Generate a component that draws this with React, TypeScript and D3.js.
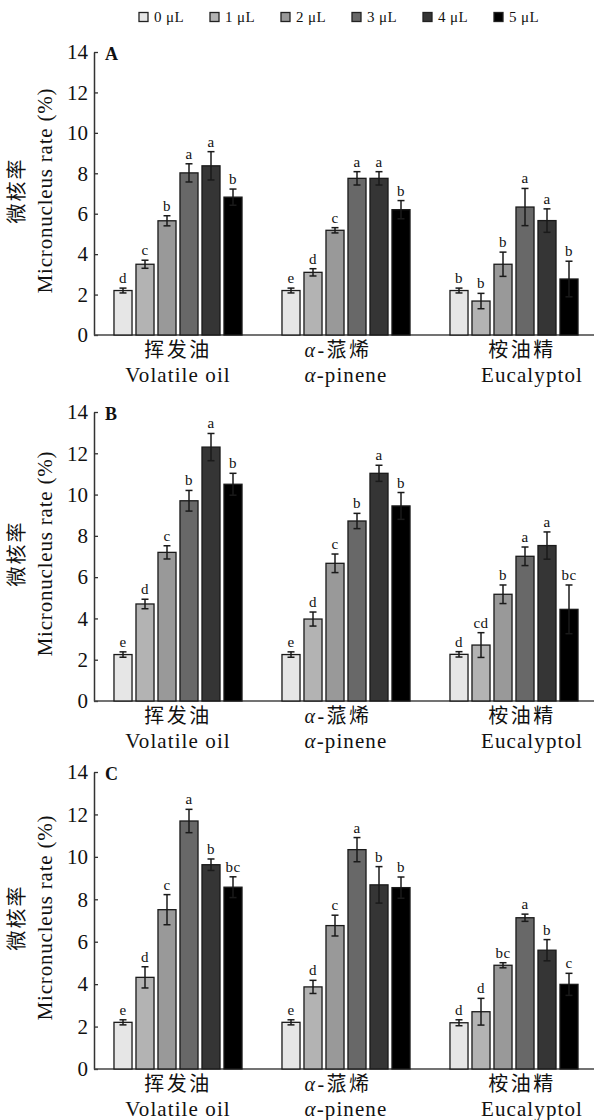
import React, { useEffect, useRef } from "react";
import * as d3 from "d3";

const groups = ["挥发油", "α-蒎烯", "桉油精"];
const groupsEn = ["Volatile oil", "α-pinene", "Eucalyptol"];
const doses = ["0 μL", "1 μL", "2 μL", "3 μL", "4 μL", "5 μL"];
const doseColors = ["#e6e6e6", "#b3b3b3", "#999999", "#686868", "#353535", "#000000"];
const yTicks = [0, 2, 4, 6, 8, 10, 12, 14];

// panel A
const meansA = [[2.2, 3.5, 5.65, 8.02, 8.37, 6.82], [2.2, 3.1, 5.18, 7.75, 7.75, 6.2], [2.2, 1.68, 3.5, 6.33, 5.66, 2.77]];
const errA = [[0.12, 0.2, 0.25, 0.45, 0.7, 0.4], [0.12, 0.18, 0.13, 0.33, 0.33, 0.45], [0.12, 0.38, 0.6, 0.92, 0.58, 0.88]];
const lettersA = [["d", "c", "b", "a", "a", "b"], ["e", "d", "c", "a", "a", "b"], ["b", "b", "b", "a", "a", "b"]];

// panel B
const meansB = [[2.25, 4.7, 7.2, 9.7, 12.3, 10.5], [2.25, 3.97, 6.67, 8.72, 11.03, 9.45], [2.26, 2.71, 5.17, 7.01, 7.53, 4.44]];
const errB = [[0.13, 0.23, 0.32, 0.5, 0.66, 0.53], [0.13, 0.34, 0.45, 0.37, 0.39, 0.65], [0.13, 0.6, 0.45, 0.45, 0.66, 1.18]];
const lettersB = [["e", "d", "c", "b", "a", "b"], ["e", "d", "c", "b", "a", "b"], ["d", "cd", "b", "a", "a", "bc"]];

// panel C
const meansC = [[2.2, 4.32, 7.51, 11.69, 9.63, 8.57], [2.2, 3.87, 6.76, 10.34, 8.68, 8.55], [2.18, 2.7, 4.89, 7.13, 5.6, 3.99]];
const errC = [[0.12, 0.5, 0.71, 0.55, 0.27, 0.49], [0.12, 0.31, 0.49, 0.57, 0.86, 0.5], [0.14, 0.63, 0.12, 0.17, 0.5, 0.52]];
const lettersC = [["e", "d", "c", "a", "b", "bc"], ["e", "d", "c", "a", "b", "b"], ["d", "d", "bc", "a", "b", "c"]];

const W = 594;
const H = 1120;
const axisX = 94;
const serif = "Liberation Serif";
const cjk = "Noto Sans CJK SC";

const panels = [
    { label: "A", means: meansA, errs: errA, letters: lettersA, top: 52, bottom: 335 },
    { label: "B", means: meansB, errs: errB, letters: lettersB, top: 412, bottom: 701 },
    { label: "C", means: meansC, errs: errC, letters: lettersC, top: 772, bottom: 1069 },
];

// label nudges relative to group centre
const zhDx = [0, -8, 8];
const enDx = [0, 0, 18];

export default function App() {
    const svgRef = useRef<SVGSVGElement>(null);

    useEffect(() => {
        const svg = d3.select(svgRef.current);
        svg.selectAll("*").remove();

        const x0 = d3.scaleBand().domain(groups).range([axisX, 598]);
        const x1 = d3.scaleBand().domain(doses).range([0, 132]).paddingInner(0.18).paddingOuter(0.09);
        const groupLeft = (gi: number) => (x0(groups[gi]) as number) + x0.bandwidth() / 2 - 66;

        // legend
        const legend = svg.append("g").attr("class", "legend");
        doses.forEach((d, i) => {
            const lx = 139 + i * 71;
            legend.append("rect")
                .attr("x", lx).attr("y", 12.5)
                .attr("width", 9).attr("height", 9)
                .attr("fill", doseColors[i])
                .attr("stroke", "#222").attr("stroke-width", 1.3);
            legend.append("text")
                .attr("x", lx + 15).attr("y", 22)
                .style("font-family", serif).style("font-size", "15px")
                .attr("letter-spacing", 0.4)
                .attr("fill", "#111")
                .text(d);
        });

        panels.forEach(p => {
            const g = svg.append("g").attr("class", "panel-" + p.label);
            const y = d3.scaleLinear().domain([0, 14]).range([p.bottom, p.top]);

            // y axis
            const ax = g.append("g")
                .attr("transform", `translate(${axisX},0)`)
                .call(d3.axisLeft(y).tickValues(yTicks).tickSizeInner(-4).tickSizeOuter(0).tickPadding(6));
            ax.attr("font-family", null).attr("font-size", null);
            ax.select(".domain").attr("stroke", "#333").attr("stroke-width", 1.5);
            ax.selectAll(".tick line").attr("stroke", "#333").attr("stroke-width", 1.3);
            ax.selectAll(".tick text")
                .style("font-family", serif).style("font-size", "21px").attr("fill", "#111");

            // x axis line
            g.append("line")
                .attr("x1", axisX).attr("x2", W)
                .attr("y1", y(0)).attr("y2", y(0))
                .attr("stroke", "#444").attr("stroke-width", 1.6);

            // bars
            p.means.forEach((row, gi) => {
                const left = groupLeft(gi);
                row.forEach((m, di) => {
                    const bx = left + (x1(doses[di]) as number);
                    const bw = x1.bandwidth();
                    const cx = bx + bw / 2;
                    const e = p.errs[gi][di];
                    g.append("rect")
                        .attr("x", bx).attr("y", y(m))
                        .attr("width", bw).attr("height", y(0) - y(m))
                        .attr("fill", doseColors[di])
                        .attr("stroke", "#1a1a1a").attr("stroke-width", 1.3);
                    // error bar
                    g.append("line")
                        .attr("x1", cx).attr("x2", cx)
                        .attr("y1", y(m - e)).attr("y2", y(m + e))
                        .attr("stroke", "#1a1a1a").attr("stroke-width", 1.5);
                    [m - e, m + e].forEach(v => {
                        g.append("line")
                            .attr("x1", cx - 3.5).attr("x2", cx + 3.5)
                            .attr("y1", y(v)).attr("y2", y(v))
                            .attr("stroke", "#1a1a1a").attr("stroke-width", 1.5);
                    });
                    g.append("text")
                        .attr("x", cx).attr("y", y(m + e) - 5)
                        .attr("text-anchor", "middle")
                        .style("font-family", serif).style("font-size", "15px")
                        .attr("letter-spacing", 0.5)
                        .attr("fill", "#111")
                        .text(p.letters[gi][di]);
                });

                // category labels
                const gc = left + 66;
                const zh = g.append("text")
                    .attr("x", gc + zhDx[gi]).attr("y", p.bottom + 22)
                    .attr("text-anchor", "middle")
                    .style("font-family", cjk).style("font-size", "20px")
                    .attr("letter-spacing", 2.5)
                    .attr("fill", "#111");
                const zhLabel = groups[gi];
                if (zhLabel.startsWith("α")) {
                    zh.append("tspan").style("font-family", serif).style("font-style", "italic").text("α");
                    zh.append("tspan").style("font-family", serif).text("-");
                    zh.append("tspan").text(zhLabel.slice(2));
                } else {
                    zh.text(zhLabel);
                }
                const en = g.append("text")
                    .attr("x", gc + enDx[gi]).attr("y", p.bottom + 47)
                    .attr("text-anchor", "middle")
                    .style("font-family", serif).style("font-size", "21px")
                    .attr("letter-spacing", 1.1)
                    .attr("fill", "#111");
                const enLabel = groupsEn[gi];
                if (enLabel.startsWith("α")) {
                    en.append("tspan").style("font-style", "italic").text("α");
                    en.append("tspan").text(enLabel.slice(1));
                } else {
                    en.text(enLabel);
                }
            });

            // panel letter
            g.append("text")
                .attr("x", 105).attr("y", p.top + 8)
                .style("font-family", serif).style("font-size", "18px").style("font-weight", "bold")
                .attr("fill", "#111")
                .text(p.label);

            // y axis titles
            const cy = (p.top + p.bottom) / 2 - 3;
            g.append("text")
                .attr("transform", `translate(24,${cy}) rotate(-90)`)
                .attr("text-anchor", "middle")
                .style("font-family", cjk).style("font-size", "20px")
                .attr("letter-spacing", 2)
                .attr("fill", "#111")
                .text("微核率");
            g.append("text")
                .attr("transform", `translate(52,${cy}) rotate(-90)`)
                .attr("text-anchor", "middle")
                .style("font-family", serif).style("font-size", "21px")
                .attr("letter-spacing", 0.8)
                .attr("fill", "#111")
                .text("Micronucleus rate (%)");
        });
    }, []);

    return (
        <svg ref={svgRef} width={W} height={H}
            style={{ position: "absolute", left: 0, top: 0, background: "#fff" }} />
    );
}
